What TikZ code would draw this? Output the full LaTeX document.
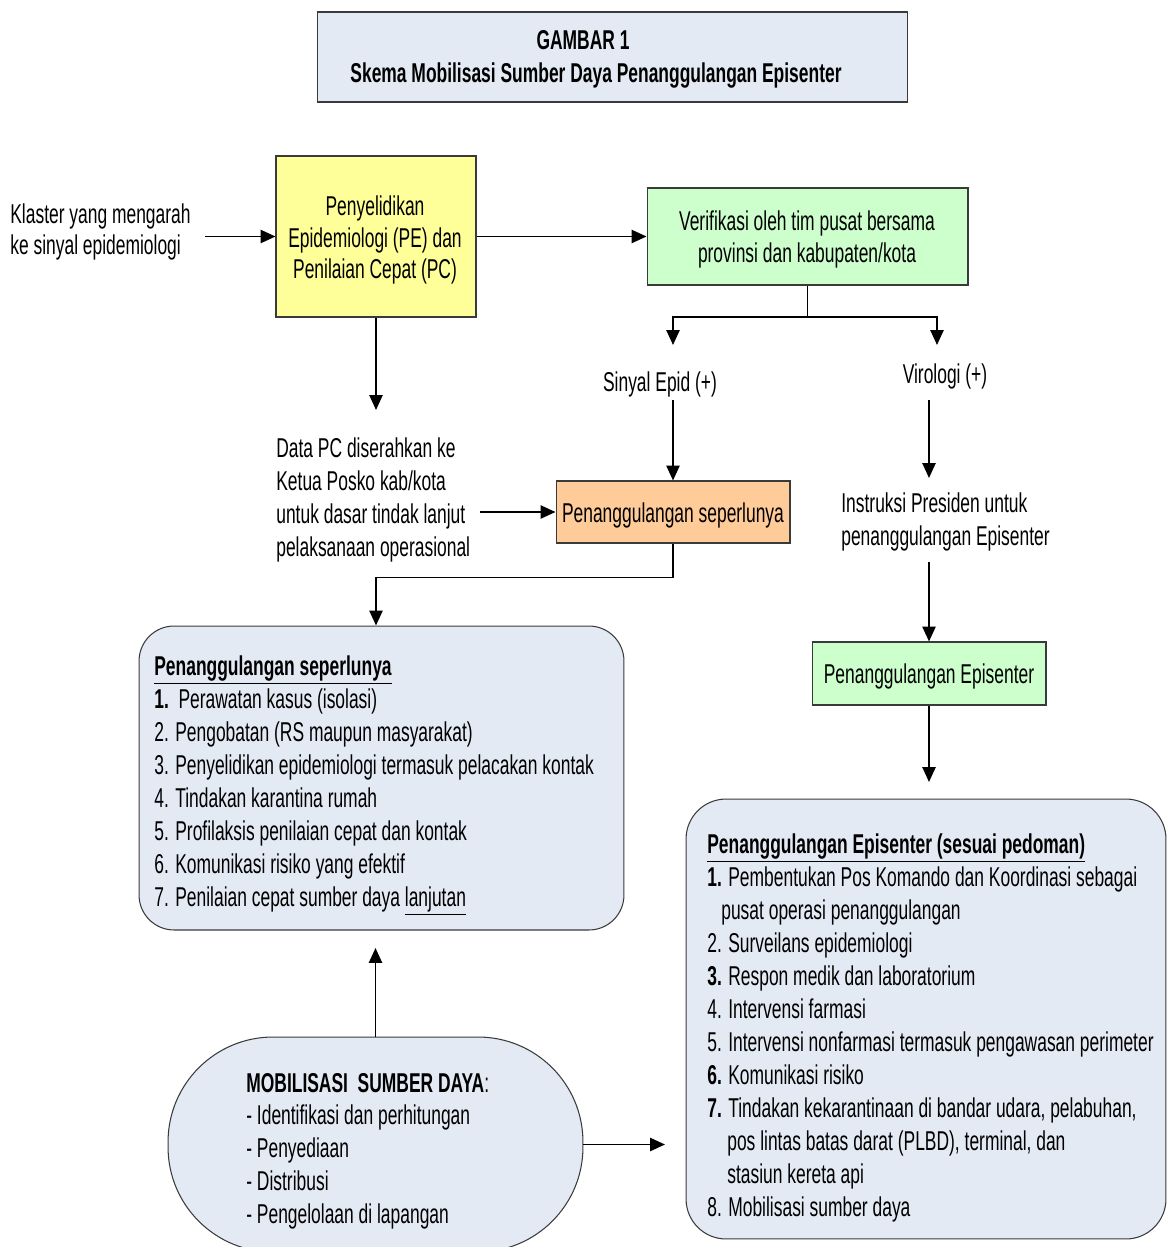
\documentclass[tikz,border=0pt]{standalone}
\usepackage{fontspec}
\setmainfont[FakeStretch=0.64]{Liberation Sans}
\usetikzlibrary{arrows.meta}
\definecolor{PaleBlue}{HTML}{E4EAF4}
\definecolor{SoftYellow}{HTML}{FFFF99}
\definecolor{MintGreen}{HTML}{CCFFCC}
\definecolor{Peach}{HTML}{FFCC99}
\definecolor{EdgeGray}{HTML}{3A3A3A}

\begin{document}
\begin{tikzpicture}[
  x=0.02cm, y=-0.02cm,
  >={Triangle[length=8.5pt,width=7.5pt]},
  every node/.style={font=\fontsize{15.5}{18.8}\selectfont},
  flowbox/.style={draw=EdgeGray, line width=0.6pt, inner sep=0pt},
  txt/.style={anchor=base west, inner sep=0pt},
  ctxt/.style={anchor=base, inner sep=0pt},
  link/.style={line width=1.1pt, ->}
]

\useasboundingbox (0,0) rectangle (1167,1247);

% === Title ===
\node[flowbox, fill=PaleBlue, minimum width=11.82cm, minimum height=1.8cm] (titlebox) at (612.5,57) {};
\node[ctxt] (title1) at (583,50) {\bfseries GAMBAR 1};
\node[ctxt] (title2) at (596,83) {\bfseries Skema Mobilisasi Sumber Daya Penanggulangan Episenter};

% === Top row: PE and verification ===
\node[txt] (klaster1) at (10,223) {Klaster yang mengarah};
\node[txt] (klaster2) at (10,254) {ke sinyal epidemiologi};
\coordinate (klasterEnd) at (205,236.5);

\node[flowbox, fill=SoftYellow, minimum width=4.0cm, minimum height=3.22cm] (pe) at (376,236.5) {};
\node[ctxt] (pe1) at (375,215) {Penyelidikan};
\node[ctxt] (pe2) at (375,247) {Epidemiologi (PE) dan};
\node[ctxt] (pe3) at (375,278) {Penilaian Cepat (PC)};

\node[flowbox, fill=MintGreen, minimum width=6.42cm, minimum height=1.94cm] (verif) at (807.5,236.5) {};
\node[ctxt] (verif1) at (807,230) {Verifikasi oleh tim pusat bersama};
\node[ctxt] (verif2) at (807,262) {provinsi dan kabupaten/kota};

\draw[link] (klasterEnd) -- (pe.west);
\draw[link] (pe.east) -- (verif.west);

% === Fork after verification ===
\coordinate (fork) at (807.5,317);
\coordinate (sinyalTop) at (673,345);
\coordinate (viroTop) at (937,345);
\draw[line width=1.1pt] (verif.south) -- (fork);
\draw[link] (fork) -| (sinyalTop);
\draw[link] (fork) -| (viroTop);

\node[ctxt] (sinyal) at (660,391) {Sinyal Epid (+)};
\node[ctxt] (viro) at (945,383) {Virologi (+)};

% === Left branch ===
\coordinate (peEnd) at (376,410);
\draw[link] (pe.south) -- (peEnd);

\node[txt] (data1) at (276,457) {Data PC diserahkan ke};
\node[txt] (data2) at (276,490) {Ketua Posko kab/kota};
\node[txt] (data3) at (276,523) {untuk dasar tindak lanjut};
\node[txt] (data4) at (276,556) {pelaksanaan operasional};
\coordinate (dataEnd) at (480,512);

\node[flowbox, fill=Peach, minimum width=4.68cm, minimum height=1.24cm] (perlu) at (673,512) {};
\node[ctxt] (perluText) at (673,522) {Penanggulangan seperlunya};

\coordinate (sinyalEnd) at (673,400);
\draw[link] (sinyalEnd) -- (perlu.north);
\draw[link] (dataEnd) -- (perlu.west);

% === Right branch ===
\coordinate (viroEnd) at (929,400);
\coordinate (instrTop) at (929,478);
\draw[link] (viroEnd) -- (instrTop);

\node[txt] (instr1) at (841,512) {Instruksi Presiden untuk};
\node[txt] (instr2) at (841,545) {penanggulangan Episenter};
\coordinate (instrEnd) at (929,562);

\node[flowbox, fill=MintGreen, minimum width=4.68cm, minimum height=1.26cm] (epi) at (929,673.5) {};
\node[ctxt] (epiText) at (929,683) {Penanggulangan Episenter};
\draw[link] (instrEnd) -- (epi.north);

\coordinate (epiEnd) at (929,782);
\draw[link] (epi.south) -- (epiEnd);

% === List box: penanggulangan seperlunya ===
\node[flowbox, fill=PaleBlue, rounded corners=0.7cm, minimum width=9.7cm, minimum height=6.08cm] (listA) at (381.5,778) {};
\node[txt] (listAhead) at (154,675) {\underline{\bfseries Penanggulangan seperlunya}};
\foreach \yy/\entry [count=\i] in {
  708/{\bfseries 1.}\ \ Perawatan kasus (isolasi),
  741/{2. Pengobatan (RS maupun masyarakat)},
  774/3. Penyelidikan epidemiologi termasuk pelacakan kontak,
  807/4. Tindakan karantina rumah,
  840/5. Profilaksis penilaian cepat dan kontak,
  873/6. Komunikasi risiko yang efektif,
  906/7. Penilaian cepat sumber daya \underline{lanjutan}%
}{
  \node[txt] (itemA\i) at (154,\yy) {\entry};
}

\draw[link] (perlu.south) -- ++(0,34) -| (listA.north -| pe.south);

% === List box: penanggulangan episenter ===
\node[flowbox, fill=PaleBlue, rounded corners=0.8cm, minimum width=9.6cm, minimum height=8.8cm] (listB) at (926,1019) {};
\node[txt] (listBhead) at (707,853) {\underline{\bfseries Penanggulangan Episenter (sesuai pedoman)}};
\foreach \xx/\yy/\entry [count=\i] in {
  707/886/{{\bfseries 1.} Pembentukan Pos Komando dan Koordinasi sebagai},
  721/919/pusat operasi penanggulangan,
  707/952/2. Surveilans epidemiologi,
  707/985/{{\bfseries 3.} Respon medik dan laboratorium},
  707/1018/4. Intervensi farmasi,
  707/1051/5. Intervensi nonfarmasi termasuk pengawasan perimeter,
  707/1084/{{\bfseries 6.} Komunikasi risiko},
  707/1117/{{\bfseries 7.} Tindakan kekarantinaan di bandar udara, pelabuhan,},
  727/1150/{pos lintas batas darat (PLBD), terminal, dan},
  727/1183/stasiun kereta api,
  707/1216/8. Mobilisasi sumber daya%
}{
  \node[txt] (itemB\i) at (\xx,\yy) {\entry};
}

% === Mobilisasi sumber daya ===
\node[flowbox, fill=PaleBlue, rounded corners=2.1cm, minimum width=8.3cm, minimum height=4.3cm] (mobil) at (375.5,1144.5) {};
\node[txt] (mobilHead) at (246,1092) {{\bfseries MOBILISASI\ \ SUMBER DAYA}:};
\foreach \yy/\entry [count=\i] in {
  1124/- Identifikasi dan perhitungan,
  1157/- Penyediaan,
  1190/- Distribusi,
  1223/- Pengelolaan di lapangan%
}{
  \node[txt] (itemM\i) at (246,\yy) {\entry};
}

\coordinate (mobilUp) at (375.5,948);
\coordinate (mobilRight) at (665,1144.5);
\draw[link] (mobil.north) -- (mobilUp);
\draw[link] (mobil.east) -- (mobilRight);

\end{tikzpicture}
\end{document}
